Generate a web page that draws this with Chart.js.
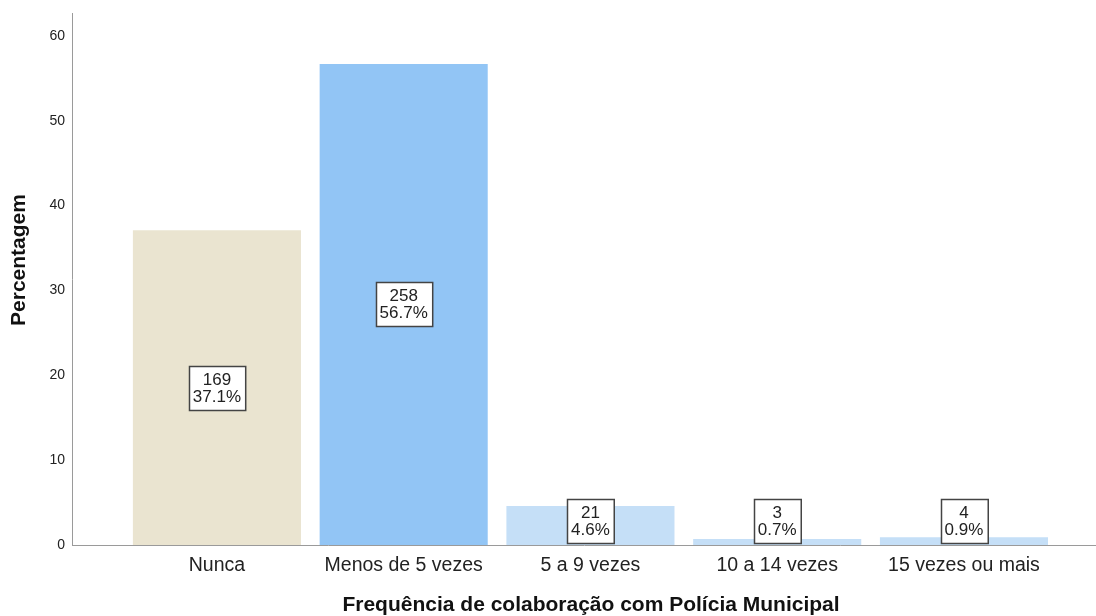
<!DOCTYPE html>
<html>
<head>
<meta charset="utf-8">
<script src="https://cdn.jsdelivr.net/npm/chart.js@4/dist/chart.umd.min.js"></script>
<style>
  body { margin: 0; background: #fff; }
  canvas { display: block; }
</style>
</head>
<body>
<canvas id="freqChart" width="1096" height="616"></canvas>
<script>
// Frequência de colaboração com Polícia Municipal
var categories = ['Nunca', 'Menos de 5 vezes', '5 a 9 vezes', '10 a 14 vezes', '15 vezes ou mais'];
var percentages = [37.1, 56.7, 4.6, 0.7, 0.9];
var counts = [169, 258, 21, 3, 4];
var yTicks = [0, 10, 20, 30, 40, 50, 60];
var barColors = ['#EAE4D0', '#92C5F5', '#C5DFF7', '#C5DFF7', '#C5DFF7'];
var xTitle = 'Frequência de colaboração com Polícia Municipal';
var yTitle = 'Percentagem';

var fontFamily = '"Liberation Sans", Arial, sans-serif';

// boxed count / percent label in the middle of each bar
var boxLabels = {
    id: 'boxLabels',
    afterDatasetsDraw: function (chart) {
        var ctx = chart.ctx;
        var meta = chart.getDatasetMeta(0);
        ctx.save();
        ctx.font = '17px ' + fontFamily;
        ctx.textAlign = 'center';
        ctx.textBaseline = 'middle';
        meta.data.forEach(function (bar, i) {
            var line1 = String(counts[i]);
            var line2 = percentages[i].toFixed(1) + '%';
            var w = Math.max(ctx.measureText(line1).width, ctx.measureText(line2).width) + 8;
            var h = 44;
            var cy = (bar.y + bar.base) / 2;
            var top = cy - h / 2;
            if (top + h > bar.base - 2) top = bar.base - 2 - h;
            var left = Math.round(bar.x - w / 2) + 0.5;
            top = Math.round(top) + 0.5;
            ctx.fillStyle = '#ffffff';
            ctx.fillRect(left, top, w, h);
            ctx.strokeStyle = '#444444';
            ctx.lineWidth = 1.5;
            ctx.strokeRect(left, top, w, h);
            ctx.fillStyle = '#222222';
            ctx.fillText(line1, bar.x, top + h / 2 - 8);
            ctx.fillText(line2, bar.x, top + h / 2 + 9);
        });
        ctx.restore();
    }
};

// axis titles, placed like the original
var axisTitles = {
    id: 'axisTitles',
    afterDraw: function (chart) {
        var ctx = chart.ctx;
        ctx.save();
        ctx.fillStyle = '#111111';
        ctx.font = 'bold 21px ' + fontFamily;
        ctx.textAlign = 'center';
        ctx.textBaseline = 'middle';
        ctx.fillText(xTitle, 591, 605);
        ctx.translate(19, 260);
        ctx.rotate(-Math.PI / 2);
        ctx.fillText(yTitle, 0, 0);
        ctx.restore();
    }
};

var ctxFreq = document.getElementById('freqChart').getContext('2d');
var freqChart = new Chart(ctxFreq, {
    type: 'bar',
    data: {
        datasets: [{
            data: percentages.map(function (p, i) { return { x: i, y: p }; }),
            backgroundColor: barColors,
            borderWidth: 0,
            barPercentage: 0.9,
            categoryPercentage: 1.0
        }]
    },
    options: {
        responsive: false,
        animation: false,
        layout: { padding: { top: 13, left: 0, right: 0, bottom: 0 } },
        plugins: {
            legend: { display: false },
            tooltip: { enabled: false }
        },
        scales: {
            x: {
                type: 'linear',
                offset: false,
                min: -0.776,
                max: 4.707,
                grid: { display: false, drawTicks: false },
                border: { display: true, color: '#9a9a9a', width: 1 },
                afterBuildTicks: function (scale) {
                    scale.ticks = categories.map(function (c, i) { return { value: i }; });
                },
                afterFit: function (scale) {
                    scale.height = 71;
                    scale.paddingLeft = 0;
                    scale.paddingRight = 0;
                },
                ticks: {
                    autoSkip: false,
                    maxRotation: 0,
                    padding: 9,
                    color: '#222222',
                    font: { family: fontFamily, size: 19.5 },
                    callback: function (v) { return categories[v]; }
                }
            },
            y: {
                min: 0,
                max: 62.7,
                grid: { display: false, drawTicks: false },
                border: { display: true, color: '#9a9a9a', width: 1 },
                afterBuildTicks: function (scale) {
                    scale.ticks = yTicks.map(function (v) { return { value: v }; });
                },
                afterFit: function (scale) {
                    scale.width = 72;
                    scale.paddingTop = 0;
                    scale.paddingBottom = 0;
                },
                ticks: {
                    padding: 7,
                    color: '#222222',
                    font: { family: fontFamily, size: 14 }
                }
            }
        }
    },
    plugins: [boxLabels, axisTitles]
});
</script>
</body>
</html>
